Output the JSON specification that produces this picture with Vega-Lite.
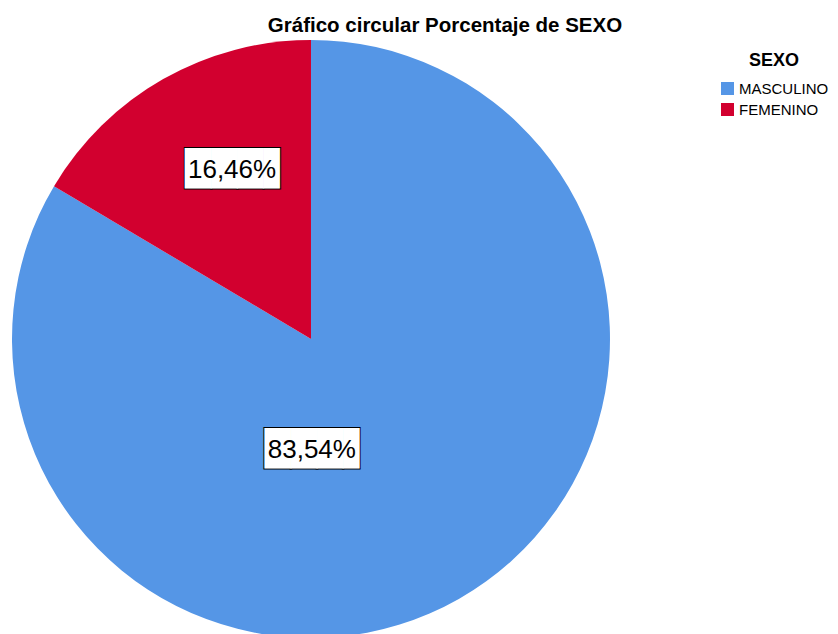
{
  "$schema": "https://vega.github.io/schema/vega-lite/v6.json",
  "autosize": {"type": "none"},
  "width": 598,
  "height": 598,
  "padding": {"left": 12, "top": 40, "right": 228, "bottom": 0},
  "background": "white",
  "title": {
    "text": "Gráfico circular Porcentaje de SEXO",
    "fontSize": 20.5,
    "fontWeight": "bold",
    "font": "Liberation Sans",
    "color": "#000000",
    "anchor": "middle",
    "dx": 134,
    "offset": -12,
    "baseline": "alphabetic"
  },
  "data": {
    "values": [
      {"sexo": "MASCULINO", "pct": 83.54, "label": "83,54%"},
      {"sexo": "FEMENINO", "pct": 16.46, "label": "16,46%"}
    ]
  },
  "encoding": {
    "theta": {"field": "pct", "type": "quantitative", "stack": true},
    "order": {"field": "pct", "type": "quantitative", "sort": "descending"}
  },
  "layer": [
    {
      "mark": {"type": "arc"},
      "encoding": {
        "color": {
          "field": "sexo",
          "type": "nominal",
          "scale": {"domain": ["MASCULINO", "FEMENINO"], "range": ["#5596E6", "#D2002F"]},
          "legend": {
            "title": "SEXO",
            "orient": "none",
            "legendX": 708,
            "legendY": 12,
            "titleFontSize": 18,
            "titleFont": "Liberation Sans",
            "titleFontWeight": "bold",
            "titleColor": "#000000",
            "titleAnchor": "middle",
            "titlePadding": 11,
            "labelFontSize": 15,
            "labelFont": "Liberation Sans",
            "labelColor": "#000000",
            "labelOffset": 4,
            "symbolType": "square",
            "symbolSize": 169,
            "symbolStrokeWidth": 0,
            "symbolOpacity": 1,
            "rowPadding": 5,
            "padding": 0
          }
        }
      }
    },
    {
      "mark": {"type": "text", "font": "DejaVu Sans", "fontSize": 34, "fill": "white", "stroke": "black", "strokeWidth": 2, "dx": 19, "dy": -5.5},
      "encoding": {
        "radius": {"value": 188},
        "text": {"condition": {"test": "datum.sexo === 'FEMENINO'", "value": "███▋"}, "value": ""}
      }
    },
    {
      "mark": {"type": "text", "font": "DejaVu Sans", "fontSize": 34, "fill": "white", "dx": 19, "dy": -5.5},
      "encoding": {
        "radius": {"value": 188},
        "text": {"condition": {"test": "datum.sexo === 'FEMENINO'", "value": "███▋"}, "value": ""}
      }
    },
    {
      "mark": {"type": "text", "font": "Liberation Sans", "fontSize": 26, "color": "#000000", "dx": 14, "dy": -5.5},
      "encoding": {
        "radius": {"value": 188},
        "text": {"condition": {"test": "datum.sexo === 'FEMENINO'", "field": "label"}, "value": ""}
      }
    },
    {
      "mark": {"type": "text", "font": "DejaVu Sans", "fontSize": 34, "fill": "white", "stroke": "black", "strokeWidth": 2, "dx": -50, "dy": 12.5},
      "encoding": {
        "radius": {"value": 113},
        "text": {"condition": {"test": "datum.sexo === 'MASCULINO'", "value": "███▋"}, "value": ""}
      }
    },
    {
      "mark": {"type": "text", "font": "DejaVu Sans", "fontSize": 34, "fill": "white", "dx": -50, "dy": 12.5},
      "encoding": {
        "radius": {"value": 113},
        "text": {"condition": {"test": "datum.sexo === 'MASCULINO'", "value": "███▋"}, "value": ""}
      }
    },
    {
      "mark": {"type": "text", "font": "Liberation Sans", "fontSize": 26, "color": "#000000", "dx": -55, "dy": 12.5},
      "encoding": {
        "radius": {"value": 113},
        "text": {"condition": {"test": "datum.sexo === 'MASCULINO'", "field": "label"}, "value": ""}
      }
    }
  ],
  "config": {"view": {"stroke": null}, "font": "Liberation Sans"}
}
